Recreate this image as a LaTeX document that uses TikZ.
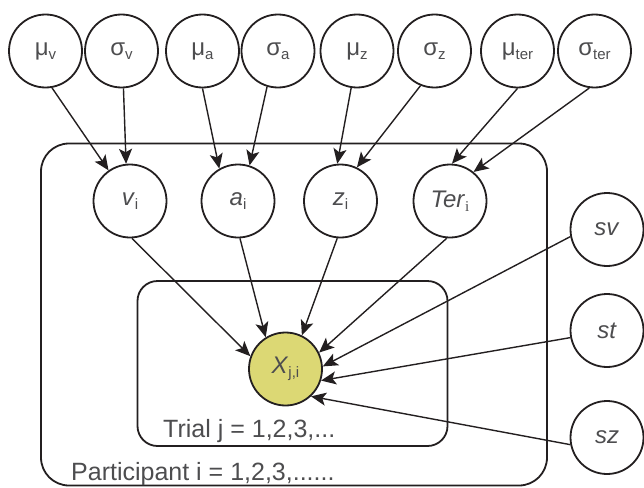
\documentclass[tikz,border=0pt]{standalone}
\usepackage{fontspec}
\setmainfont{Liberation Sans}
\newfontfamily\serifff{Liberation Serif}
\usetikzlibrary{arrows.meta}
\definecolor{linec}{HTML}{231F20}
\definecolor{textc}{HTML}{4D4D4F}
\definecolor{fillc}{HTML}{DCD874}
\newcommand{\lsub}[1]{\raisebox{-0.35ex}{\fontsize{15}{15}\selectfont #1}}
\begin{document}
\begin{tikzpicture}[x=1pt,y=-1pt,
  circ/.style={circle, draw=linec, line width=1.8pt, minimum size=73pt, inner sep=0pt, text=textc, font=\fontsize{24}{28}\selectfont},
  arr/.style={draw=linec, line width=1.4pt, -{Stealth[length=15pt,width=13pt,inset=3.5pt]}},
  plate/.style={draw=linec, line width=1.8pt, inner sep=0pt, rounded corners=#1},
  lbl/.style={anchor=base west, text=textc, inner sep=0pt, font=\fontsize{25}{28}\selectfont}]
\useasboundingbox (0,0) rectangle (644,487);
% plates
\node[plate=28pt, minimum width=506pt, minimum height=342pt] (outer) at (294,314.5) {};
\node[plate=20pt, minimum width=310pt, minimum height=165pt] (inner) at (292.5,363.5) {};
\node[lbl] (plabel) at (71,480) {Participant i = 1,2,3,......};
\node[lbl] (tlabel) at (163,437) {Trial j = 1,2,3,...};
% top row
\node[circ] (muv) at (45.5,51) {μ\lsub{v}};
\node[circ] (sigv) at (121.5,51) {σ\lsub{v}};
\node[circ] (mua) at (202.5,51) {μ\lsub{a}};
\node[circ] (siga) at (278,51) {σ\lsub{a}};
\node[circ] (muz) at (357,51) {μ\lsub{z}};
\node[circ] (sigz) at (434.5,51) {σ\lsub{z}};
\node[circ] (muter) at (517.5,51) {μ\lsub{ter}};
\node[circ] (sigter) at (594.5,51) {σ\lsub{ter}};
% middle row
\node[circ] (vi) at (130,201) {\textit{v}\lsub{i}};
\node[circ] (ai) at (238,201) {\textit{a}\lsub{i}};
\node[circ] (zi) at (340.5,201) {\textit{z}\lsub{i}};
\node[circ] (teri) at (450,201) {\textit{Ter}{\serifff\lsub{i}}};
% right column
\node[circ] (sv) at (607,229.5) {\textit{sv}};
\node[circ] (st) at (607,330.5) {\textit{st}};
\node[circ] (sz) at (607,437.5) {\textit{sz}};
% data node
\node[circ, fill=fillc] (x) at (285.5,369) {\textit{X}\lsub{j,i}};
% arrows
\draw[arr] (muv.280) -- (vi.125);
\draw[arr] (sigv.273) -- (vi.96);
\draw[arr] (mua.270) -- (ai.120);
\draw[arr] (siga.253) -- (ai.72);
\draw[arr] (muz.261) -- (zi.95);
\draw[arr] (sigz.248) -- (zi.64);
\draw[arr] (muter.270) -- (teri.87);
\draw[arr] (sigter.262) -- (teri.51);
\draw[arr] (vi.273) -- (x.160);
\draw[arr] (ai.273) -- (x.122);
\draw[arr] (zi.265) -- (x.64);
\draw[arr] (teri.265) -- (x.26);
\draw[arr] (sv.191) -- (x.4);
\draw[arr] (st.191) -- (x.-18);
\draw[arr] (sz.191) -- (x.-47);
\end{tikzpicture}
\end{document}
